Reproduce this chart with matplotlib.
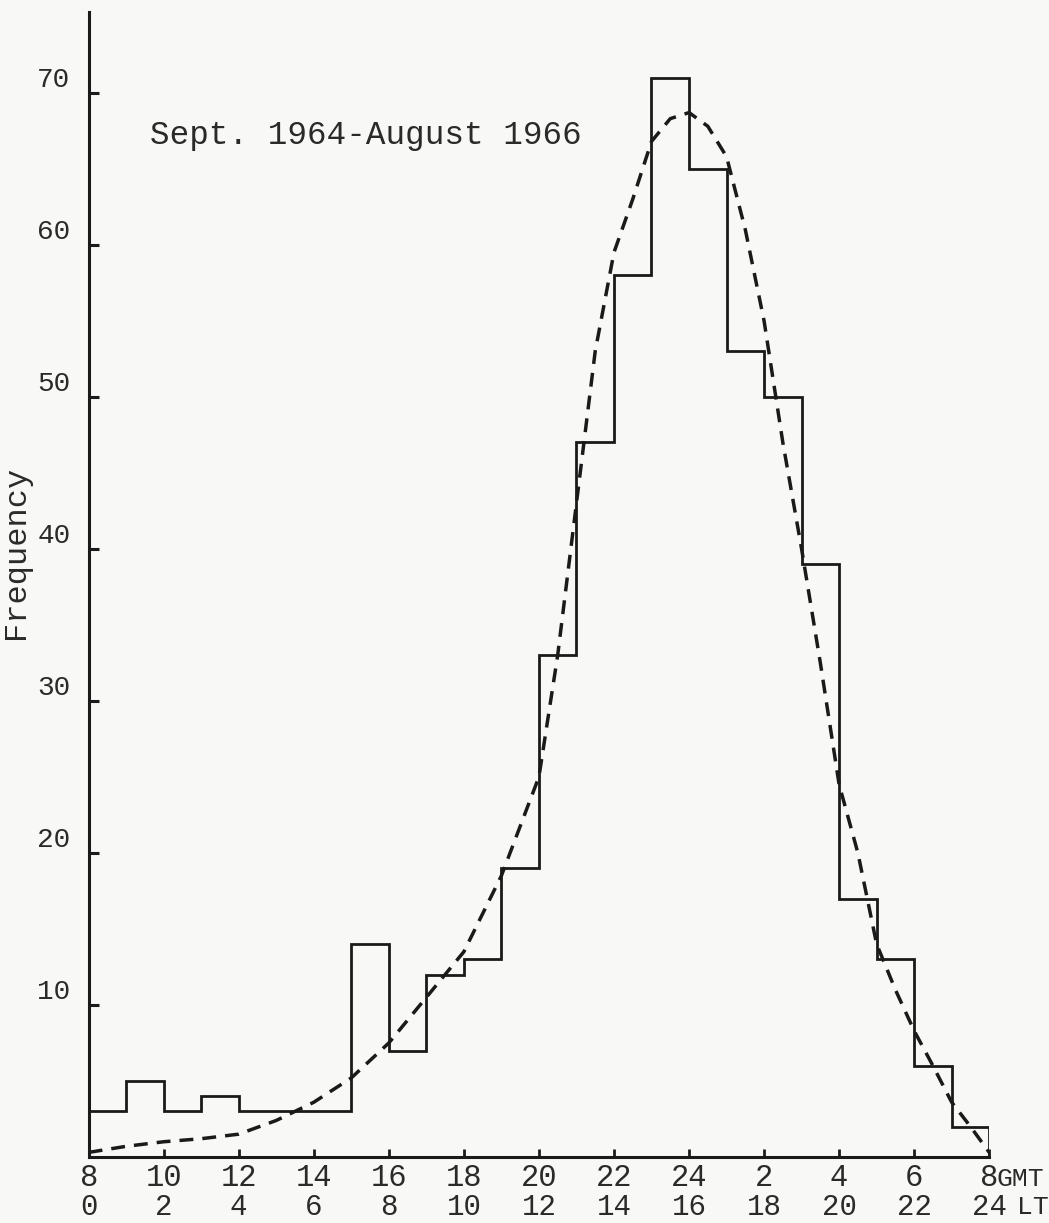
import matplotlib.pyplot as plt
import numpy as np

# Hourly frequency, local time bins 0-1 ... 23-24 (GMT = LT + 8)
bin_edges_lt = list(range(0, 25))
frequency = [3, 5, 3, 4, 3, 3, 3, 14, 7, 12, 13, 19,
             33, 47, 58, 71, 65, 53, 50, 39, 17, 13, 6, 2]

# Smoothed curve (dashed)
curve_lt = [0, 1, 2, 3, 4, 5, 6, 7, 8, 9, 10, 11, 12, 12.5, 13, 13.5, 14,
            14.5, 15, 15.5, 16, 16.5, 17, 17.5, 18, 18.5, 19, 19.5, 20,
            20.5, 21, 21.5, 22, 22.5, 23, 23.5, 24]
curve_val = [0.3, 0.7, 1.0, 1.2, 1.5, 2.4, 3.6, 5.2, 7.5, 10.5, 13.5, 18.5,
             25, 33, 43, 53, 59.5, 63, 66.8, 68.3, 68.7, 67.8, 65.8, 61,
             55, 47, 40, 32.5, 24.5, 20, 14, 11, 8.3, 6, 3.6, 2, 0.3]

tick_lt = list(range(0, 25, 2))
tick_gmt = ["8", "10", "12", "14", "16", "18", "20", "22", "24",
            "2", "4", "6", "8"]
tick_lt_labels = ["0", "2", "4", "6", "8", "10", "12", "14", "16",
                  "18", "20", "22", "24"]
y_ticks = [10, 20, 30, 40, 50, 60, 70]

papel = "#f8f8f6"
tinta = "#1a1a1a"
texto = "#2a2a2a"
plt.rcParams["font.family"] = ["Liberation Mono", "DejaVu Sans Mono"]

fig = plt.figure(figsize=(10.49, 12.23), dpi=100, facecolor=papel)
ax = fig.add_axes([0.0845, 0.054, 0.8585, 0.936], facecolor=papel)

ax.stairs(frequency, bin_edges_lt, baseline=0, color=tinta, linewidth=2.0)
ax.plot(curve_lt, curve_val, color=tinta, linewidth=2.5,
        linestyle=(0, (4, 2.6)), dash_capstyle="butt")

ax.set_xlim(0, 24)
ax.set_ylim(0, 75.3)
for lado in ["top", "right"]:
    ax.spines[lado].set_visible(False)
for lado in ["left", "bottom"]:
    ax.spines[lado].set_linewidth(2.2)
    ax.spines[lado].set_color(tinta)

ax.set_yticks(y_ticks)
ax.set_yticklabels([str(v) for v in y_ticks], fontsize=20, color=texto,
                   va="bottom")
ax.tick_params(axis="y", direction="in", length=7, width=2.2, pad=13,
               color=tinta)

ax.set_xticks(tick_lt)
ax.set_xticklabels(tick_gmt, fontsize=22, color=texto)
ax.tick_params(axis="x", direction="in", length=6, width=2, pad=4,
               color=tinta)

# Second row of labels: local time
trans = ax.get_xaxis_transform()
for x, etiqueta in zip(tick_lt, tick_lt_labels):
    ax.text(x, -0.044, etiqueta, transform=trans, ha="center", va="center",
            fontsize=21, color=texto)
ax.text(24.2, -0.0195, "GMT", transform=trans, ha="left", va="center",
        fontsize=19, color=texto)
ax.text(24.75, -0.044, "LT", transform=trans, ha="left", va="center",
        fontsize=19, color=texto)

ax.set_ylabel("Frequency", fontsize=23, color=texto)
ax.yaxis.set_label_coords(-0.064, 0.528)

ax.text(1.64, 67.2, "Sept. 1964-August 1966", fontsize=23.5, color=texto,
        ha="left", va="center")

fig.savefig("out.png", dpi=100, facecolor=papel)
